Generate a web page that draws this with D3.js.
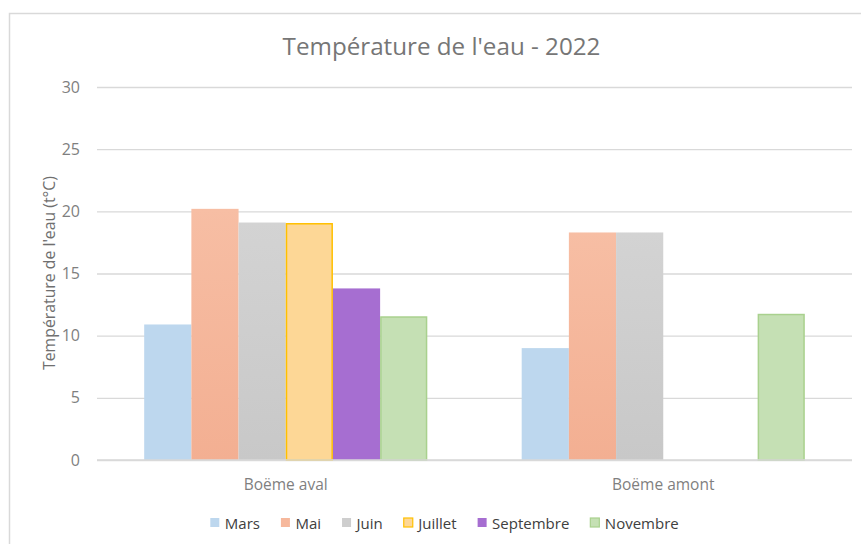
<!DOCTYPE html>
<html><head><meta charset="utf-8">
<script src="https://cdn.jsdelivr.net/npm/d3@7"></script>
<style>body{margin:0;background:#fff}svg{display:block;font-family:"Open Sans",sans-serif}</style>
</head><body><svg id="c" width="861" height="544"></svg>
<script>
const categories = ["Boëme aval", "Boëme amont"];
const seriesNames = ["Mars", "Mai", "Juin", "Juillet", "Septembre", "Novembre"];
const mars = [10.9, 9.0];
const mai = [20.2, 18.3];
const juin = [19.1, 18.3];
const juillet = [19.0, null];
const septembre = [13.8, null];
const novembre = [11.5, 11.7];
const yTicks = [0, 5, 10, 15, 20, 25, 30];
const title = "Température de l'eau - 2022";
const yTitle = "Température de l'eau (t°C)";

const seriesValues = [mars, mai, juin, juillet, septembre, novembre];
const fills = ["#BDD7EE", "url(#gMai)", "url(#gJuin)", "#FDD796", "#A66ED1", "#C5E0B4"];
const strokes = ["none", "none", "none", "#FFC000", "none", "#A9D18E"];
const swatch = ["#BDD7EE", "#F6B89C", "#CECECE", "#FDD796", "#A66ED1", "#C5E0B4"];

const svg = d3.select("#c");
const defs = svg.append("defs");
function grad(id, c1, c2){
  const g = defs.append("linearGradient").attr("id", id).attr("x1",0).attr("y1",0).attr("x2",0).attr("y2",1);
  g.append("stop").attr("offset","0%").attr("stop-color",c1);
  g.append("stop").attr("offset","100%").attr("stop-color",c2);
}
grad("gMai", "#F7BEA4", "#F3AF92");
grad("gJuin", "#D3D3D3", "#C8C8C8");

// chart border
svg.append("path").attr("d","M9.5,544 V13.5 H861").attr("fill","none").attr("stroke","#D9D9D9").attr("stroke-width",1.5);

const L = 97, R = 852, T = 87, B = 460;
const y = d3.scaleLinear().domain([0, 30]).range([B, T]);
const x0 = d3.scaleBand().domain(categories).range([L, R]).paddingInner(0).paddingOuter(0);
const x1 = d3.scaleBand().domain(seriesNames).range([0, x0.bandwidth()]).paddingInner(0).paddingOuter(1);

// grid
const yAxis = d3.axisLeft(y).tickValues(yTicks).tickSize(-(R - L)).tickPadding(17);
const ga = svg.append("g").attr("transform", `translate(${L},0)`).call(yAxis);
ga.select(".domain").remove();
ga.selectAll(".tick line").attr("stroke", "#D9D9D9").attr("stroke-width", 1.3);
ga.selectAll(".tick text").attr("fill", "#7F7F7F").style("font-size", "16px").style("font-family", "Open Sans");

// bars
const data = [];
categories.forEach((c, ci) => seriesNames.forEach((s, si) => {
  const v = seriesValues[si][ci];
  if (v != null) data.push({c, s, si, v});
}));
svg.append("g").selectAll("rect").data(data).join("rect")
  .attr("x", d => x0(d.c) + x1(d.s) + (strokes[d.si] !== "none" ? 0.75 : 0))
  .attr("y", d => y(d.v))
  .attr("width", d => x1.bandwidth() - (strokes[d.si] !== "none" ? 1.5 : 0))
  .attr("height", d => y(0) - y(d.v))
  .attr("fill", d => fills[d.si])
  .attr("stroke", d => strokes[d.si])
  .attr("stroke-width", 1.5);

// baseline
svg.append("line").attr("x1", L).attr("x2", R).attr("y1", B).attr("y2", B).attr("stroke", "#D9D9D9").attr("stroke-width", 1.3);

// category labels
svg.append("g").selectAll("text").data(categories).join("text")
  .attr("x", d => x0(d) + x0.bandwidth() / 2).attr("y", 490)
  .attr("text-anchor", "middle").attr("fill", "#7F7F7F").style("font-size", "15.5px")
  .text(d => d);

// title
svg.append("text").attr("x", 441.5).attr("y", 55).attr("text-anchor", "middle")
  .attr("fill", "#767676").style("font-size", "24.2px").text(title);

// y title
svg.append("text").attr("transform", `translate(55,273) rotate(-90)`)
  .attr("text-anchor", "middle").attr("fill", "#6F6F6F").style("font-size", "15.8px").text(yTitle);

// legend
const lg = svg.append("g");
let cx = 0;
seriesNames.forEach((s, i) => {
  const g = lg.append("g");
  g.append("rect").attr("x", 0).attr("y", -5).attr("width", 9).attr("height", 9)
    .attr("fill", swatch[i]).attr("stroke", strokes[i] === "none" ? "none" : strokes[i]).attr("stroke-width", 1.2);
  const t = g.append("text").attr("x", 14.5).attr("y", 5.5).attr("fill", "#404040").style("font-size", "15px").text(s);
  const w = 14.5 + t.node().getComputedTextLength();
  g.attr("transform", `translate(${cx},0)`);
  cx += w + 21;
});
const totalW = cx - 21;
lg.attr("transform", `translate(${444.5 - totalW / 2},523)`);
</script></body></html>
